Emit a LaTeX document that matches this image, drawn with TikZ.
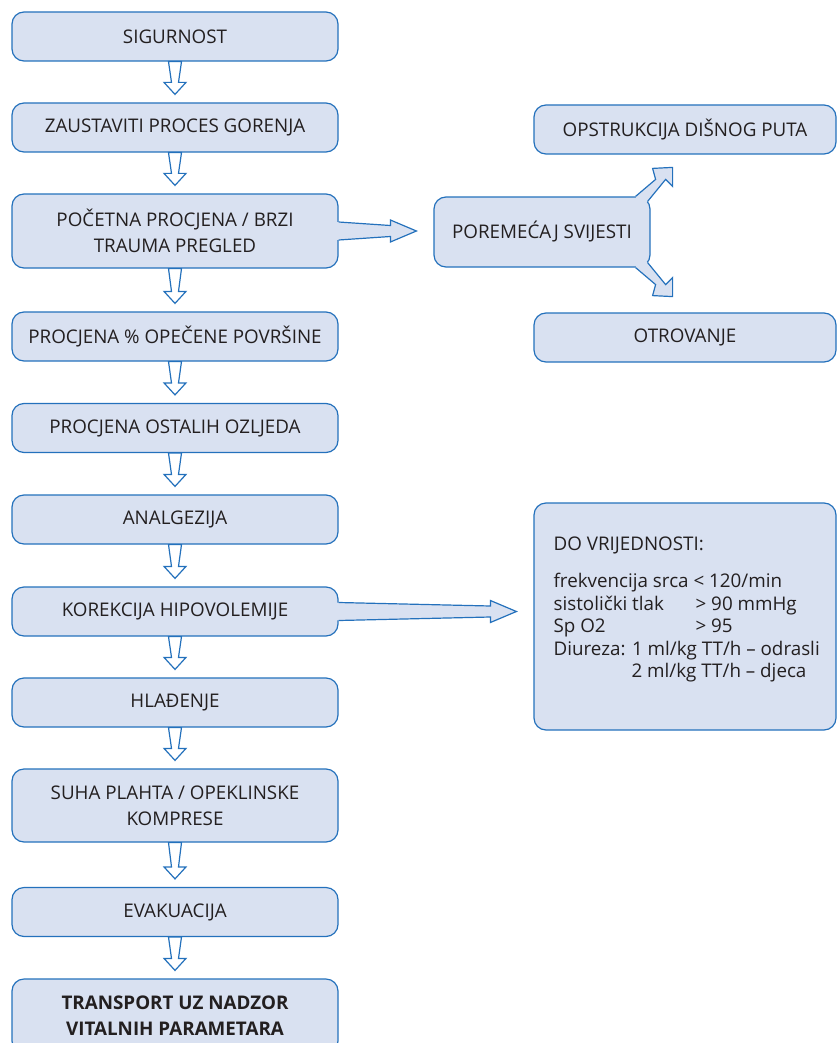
\documentclass[tikz,border=0pt]{standalone}
\usepackage{fontspec}
\setmainfont{Open Sans}
\usepackage{tikz}
\usetikzlibrary{calc}
\definecolor{boxblue}{RGB}{36,113,188}
\definecolor{boxfill}{RGB}{217,225,241}
\definecolor{textgray}{RGB}{35,31,32}
\tikzset{
  stepbox/.style={draw=boxblue, fill=boxfill, line width=1.2pt, rounded corners=12pt,
    minimum width=326pt, minimum height=49pt, inner sep=0pt, align=center,
    text=textgray, font=\fontsize{18.8}{26}\selectfont},
  arrowline/.style={draw=boxblue, line width=1.2pt, line join=miter},
}
% hollow arrow pointing down from one box to the next
\newcommand{\downblock}[2]{%
  \draw[arrowline, fill=white] ($(#1.south)+(-6.5,0)$) -- ($(#2.north)+(-3.5,-20)$)
    -- ($(#2.north)+(-11,-20)$) -- ($(#2.north)+(0,-8)$) -- ($(#2.north)+(11,-20)$)
    -- ($(#2.north)+(3.5,-20)$) -- ($(#1.south)+(6.5,0)$) -- cycle;}
% filled arrow growing out of a box to the right
\newcommand{\rightblock}[2]{%
  \coordinate (tip) at ($(#1.east -| #2.west)+(-17,0)$);
  \coordinate (root) at (#1.east);
  \fill[boxfill] ($(root)+(-2,-9)$) -- ($(tip)+(-26,-5.5)$) -- ($(tip)+(-26,-11)$) -- (tip)
    -- ($(tip)+(-26,11)$) -- ($(tip)+(-26,5.5)$) -- ($(root)+(-2,9)$) -- cycle;
  \draw[arrowline] ($(root)+(0,-9)$) -- ($(tip)+(-26,-5.5)$) -- ($(tip)+(-26,-11)$) -- (tip)
    -- ($(tip)+(-26,11)$) -- ($(tip)+(-26,5.5)$) -- ($(root)+(0,9)$);}
% filled arrow growing out of a box corner
\newcommand{\cornerblock}[2]{%
  \begin{scope}[shift={(#1)}, yscale=#2]
    \fill[boxfill] (-15,0) -- (5,-17) -- (2,-28) -- (22,-29) -- (22,-10) -- (15,-17)
      -- (-3,5) -- (-12,10) -- cycle;
    \draw[arrowline] (-15,0) -- (5,-17) -- (2,-28) -- (22,-29) -- (22,-10) -- (15,-17) -- (-3,5);
  \end{scope}}

\begin{document}
\begin{tikzpicture}[x=1pt, y=-1pt]
  \useasboundingbox (0,0) rectangle (837,1043);
  \clip (0,0) rectangle (837,1043);

  \node [stepbox] (sig) at (175,36.5) {SIGURNOST};
  \node [stepbox] (zau) at (175,127.5) {ZAUSTAVITI PROCES GORENJA};
  \node [stepbox, minimum height=74pt] (poc) at (175,231) {POČETNA PROCJENA / BRZI\\TRAUMA PREGLED};
  \node [stepbox] (pos) at (175,336.5) {PROCJENA \% OPEČENE POVRŠINE};
  \node [stepbox] (ost) at (175,428) {PROCJENA OSTALIH OZLJEDA};
  \node [stepbox] (ana) at (175,519.5) {ANALGEZIJA};
  \node [stepbox] (kor) at (175,611.5) {KOREKCIJA HIPOVOLEMIJE};
  \node [stepbox] (hla) at (175,702.5) {HLAĐENJE};
  \node [stepbox, minimum height=73pt] (suh) at (175,805.5) {SUHA PLAHTA / OPEKLINSKE\\KOMPRESE};
  \node [stepbox] (eva) at (175,912) {EVAKUACIJA};
  \node [stepbox, minimum height=74pt] (tra) at (175,1016) {\bfseries TRANSPORT UZ NADZOR\\\bfseries VITALNIH PARAMETARA};

  \node [stepbox, minimum width=302pt] (ops) at (685,129.5) {OPSTRUKCIJA DIŠNOG PUTA};
  \node [stepbox, minimum width=216pt, minimum height=70pt] (por) at (542,232) {POREMEĆAJ SVIJESTI};
  \node [stepbox, minimum width=302pt] (otr) at (685,337.5) {OTROVANJE};
  \node [stepbox, minimum width=302pt, minimum height=227pt] (vals) at (685,616.5) {};
  \node [anchor=north west, align=left, inner sep=0pt, text=textgray,
    font=\fontsize{18.8}{22.6}\selectfont] (valstext) at ($(vals.north west)+(20,34)$)
    {DO VRIJEDNOSTI:\\[14.7pt]
     frekvencija srca < 120/min\\
     \makebox[142pt][l]{sistolički tlak}> 90 mmHg\\
     \makebox[142pt][l]{Sp O2}> 95\\
     Diureza: 1 ml/kg TT/h – odrasli\\
     \hspace*{78pt}2 ml/kg TT/h – djeca};

  \downblock{sig}{zau}
  \downblock{zau}{poc}
  \downblock{poc}{pos}
  \downblock{pos}{ost}
  \downblock{ost}{ana}
  \downblock{ana}{kor}
  \downblock{kor}{hla}
  \downblock{hla}{suh}
  \downblock{suh}{eva}
  \downblock{eva}{tra}
  \rightblock{poc}{por}
  \rightblock{kor}{vals}
  \cornerblock{por.north east}{1}
  \cornerblock{por.south east}{-1}
\end{tikzpicture}
\end{document}
